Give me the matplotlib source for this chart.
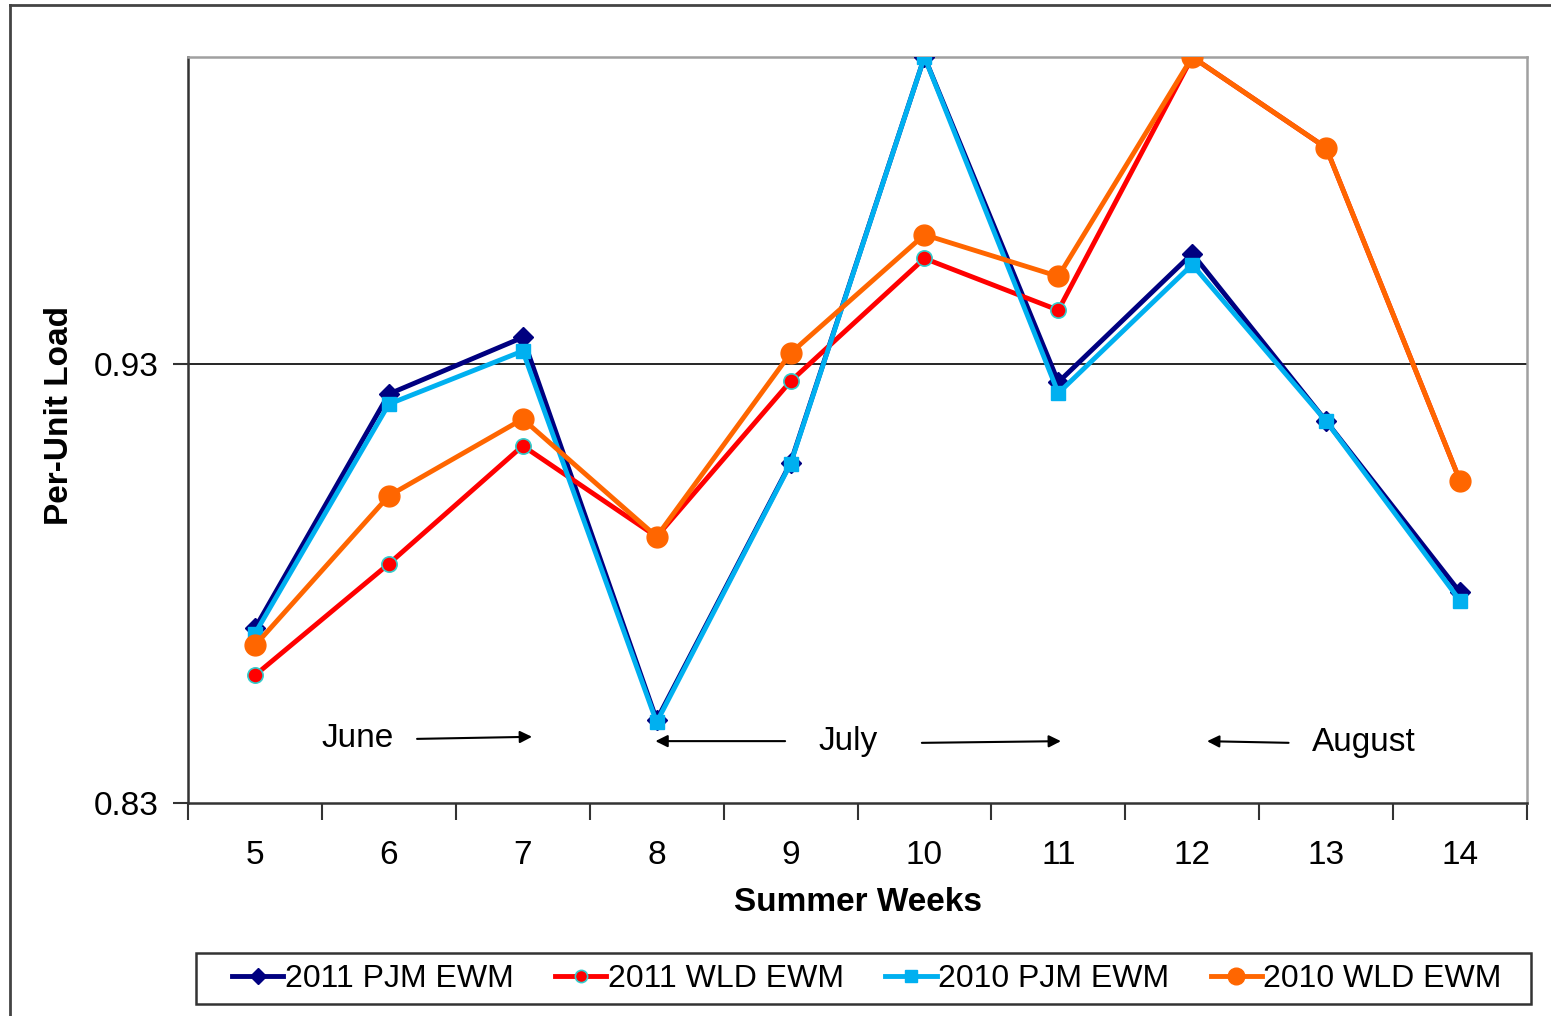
import matplotlib
matplotlib.use('Agg')
from matplotlib import pyplot as plt
from matplotlib.lines import Line2D
from matplotlib.patches import Rectangle

plt.rcParams['font.family'] = ['Liberation Sans', 'DejaVu Sans']

weeks = [5, 6, 7, 8, 9, 10, 11, 12, 13, 14]
pjm_2011 = [0.8698, 0.9232, 0.9361, 0.8489, 0.9075, 1.0, 0.9259, 0.9552, 0.9170, 0.8780]
wld_2011 = [0.8591, 0.8845, 0.9114, 0.8907, 0.9261, 0.9541, 0.9423, 1.0, 0.9793, 0.9034]
pjm_2010 = [0.8686, 0.9209, 0.9330, 0.8484, 0.9073, 1.0, 0.9234, 0.9527, 0.9170, 0.8761]
wld_2010 = [0.8659, 0.9000, 0.9175, 0.8907, 0.9325, 0.9595, 0.9500, 1.0, 0.9793, 0.9034]
series_labels = ['2011 PJM EWM', '2011 WLD EWM', '2010 PJM EWM', '2010 WLD EWM']

fig = plt.figure(figsize=(15.51, 10.16), dpi=100)
ax = fig.add_axes([188/1551, 1-803/1016, (1527-188)/1551, (803-57)/1016])

x = list(range(len(weeks)))
ax.plot(x, pjm_2011, color='#000080', lw=3.5, marker='D', ms=10, label=series_labels[0], zorder=3)
ax.plot(x, wld_2011, color='#FF0000', lw=3.5, marker='o', ms=11, mfc='#FF0000', mec='#33CCCC',
        mew=1.2, label=series_labels[1], zorder=4)
ax.plot(x, pjm_2010, color='#00B0F0', lw=3.5, marker='s', ms=10, label=series_labels[2], zorder=5)
ax.plot(x, wld_2010, color='#FF6600', lw=3.5, marker='o', ms=15, label=series_labels[3], zorder=6)

ax.set_xlim(-0.5, len(weeks) - 0.5)
ax.set_ylim(0.83, 1.0)
ax.set_yticks([0.83, 0.93])
ax.set_yticklabels(['0.83', '0.93'])
ax.axhline(0.93, color='black', lw=1.2, zorder=1)

# ticks at category boundaries, labels centered
ax.set_xticks([i - 0.5 for i in range(len(weeks) + 1)])
ax.set_xticklabels([])
ax.set_xticks(x, minor=True)
ax.set_xticklabels([str(w) for w in weeks], minor=True)
ax.tick_params(axis='x', which='major', direction='out', length=12, width=1.5, color='#333333')
ax.tick_params(axis='x', which='minor', length=0, pad=27, labelsize=24)
ax.tick_params(axis='y', direction='out', length=11, width=1.5, color='#333333', labelsize=24, pad=10)

for s in ['left', 'bottom']:
    ax.spines[s].set_color('#333333')
    ax.spines[s].set_linewidth(1.8)
for s in ['top', 'right']:
    ax.spines[s].set_color('#A0A0A0')
    ax.spines[s].set_linewidth(1.8)

ax.set_xlabel('Summer Weeks', fontsize=24, fontweight='bold', labelpad=11)
ax.set_ylabel('Per-Unit Load', fontsize=24, fontweight='bold')
ax.yaxis.set_label_coords(-0.0844, 0.52)

# month annotations
arrow = dict(arrowstyle='-|>', color='black', lw=1.5, mutation_scale=18)
ax.text(0.77, 0.8446, 'June', fontsize=24, ha='center', va='center')
ax.annotate('', xy=(2.09, 0.8451), xytext=(1.19, 0.8446), arrowprops=arrow)
ax.text(4.43, 0.8441, 'July', fontsize=24, ha='center', va='center')
ax.annotate('', xy=(2.97, 0.8441), xytext=(3.98, 0.8441), arrowprops=arrow)
ax.annotate('', xy=(6.04, 0.8441), xytext=(4.96, 0.8437), arrowprops=arrow)
ax.text(8.28, 0.8437, 'August', fontsize=24, ha='center', va='center')
ax.annotate('', xy=(7.09, 0.8441), xytext=(7.74, 0.8437), arrowprops=arrow)

leg = fig.legend(loc='center', bbox_to_anchor=(867/1551, 1-979/1016),
                 ncol=4, fontsize=23, frameon=False, markerscale=0.8,
                 handlelength=1.6, handletextpad=0.05, borderaxespad=0, columnspacing=1.3)
fig.add_artist(Rectangle((196/1551, 1-1004/1016), (1531-196)/1551, 51/1016,
                         transform=fig.transFigure, fill=False, edgecolor='#333333', lw=1.8))

# outer chart border (top and left visible)
fig.add_artist(Line2D([10/1551, 1.0], [1-5/1016, 1-5/1016], transform=fig.transFigure, color='#444444', lw=2))
fig.add_artist(Line2D([10/1551, 10/1551], [0, 1-5/1016], transform=fig.transFigure, color='#444444', lw=2))

fig.savefig('out.png', dpi=100)
